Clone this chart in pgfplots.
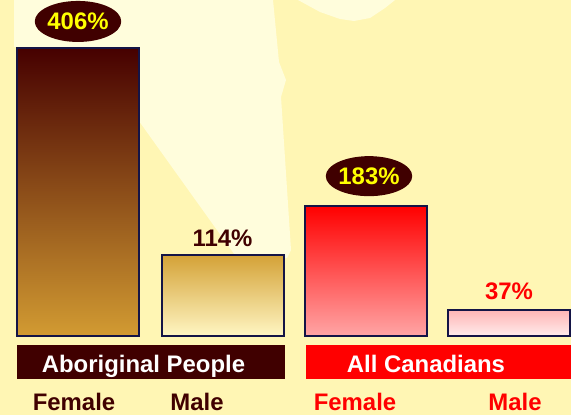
\documentclass[border=0pt]{standalone}
\usepackage{pgfplots}
\pgfplotsset{compat=1.18}
\usetikzlibrary{shapes.geometric}
\usepackage{fontspec}
\setmainfont{Liberation Sans}
\definecolor{bgdark}{RGB}{255,246,180}
\definecolor{bglight}{RGB}{255,253,220}
\definecolor{maroonx}{RGB}{64,0,0}
\definecolor{navyx}{RGB}{20,20,70}
\definecolor{redx}{RGB}{255,0,0}
\definecolor{yellowx}{RGB}{255,255,0}
\newcommand{\bigbf}{\fontsize{24}{26}\selectfont\bfseries}
\begin{document}
\begin{tikzpicture}
% background / decoration axis in pixel coordinates
\begin{axis}[at={(0,0)}, anchor=south west, scale only axis,
  width=571bp, height=415bp, xmin=0, xmax=571, ymin=0, ymax=415,
  y dir=reverse, hide axis, clip=false]
\fill[bgdark] (axis cs:0,0) rectangle (axis cs:571,415);
\fill[bglight] (axis cs:14,0) -- (axis cs:14,47) -- (axis cs:86,47) -- (axis cs:237,258)
  -- (axis cs:287,258) -- (axis cs:291,250) -- (axis cs:281,97) -- (axis cs:286,80)
  -- (axis cs:279,62) -- (axis cs:273,0) -- cycle;
\fill[bglight] (axis cs:298,0) -- (axis cs:320,12) -- (axis cs:340,19) -- (axis cs:354,21)
  -- (axis cs:370,18) -- (axis cs:385,8) -- (axis cs:395,0) -- cycle;
\fill[maroonx] (axis cs:17,345) rectangle (axis cs:285,379);
\fill[redx] (axis cs:306,345) rectangle (axis cs:571,379);
\node[anchor=base, text=white, font=\bigbf] at (axis cs:143.5,372.7) {Aboriginal People};
\node[anchor=base, text=white, font=\bigbf] at (axis cs:426,372.7) {All Canadians};
\node[anchor=base, text=maroonx, font=\bigbf] at (axis cs:74,410) {Female};
\node[anchor=base, text=maroonx, font=\bigbf] at (axis cs:197,410) {Male};
\node[anchor=base, text=redx, font=\bigbf] at (axis cs:355,410) {Female};
\node[anchor=base, text=redx, font=\bigbf] at (axis cs:515,410) {Male};
\end{axis}
% data axis
\begin{axis}[at={(0,0)}, anchor=south west, scale only axis,
  width=571bp, height=415bp, xmin=0, xmax=571, ymin=-111.4, ymax=473.6,
  hide axis, clip=false, bar width=122,
  /pgf/number format/assume math mode=true,
  nodes near coords={\pgfmathprintnumber{\pgfplotspointmeta}\%},
  every node near coord/.append style={font=\bigbf, inner sep=0pt}]
% Aboriginal People, Female
\addplot[ybar, bar shift=0pt, draw=navyx, line width=2bp,
  top color={rgb,255:red,70;green,0;blue,0},
  middle color={rgb,255:red,130;green,50;blue,15},
  bottom color={rgb,255:red,210;green,155;blue,50},
  every node near coord/.append style={ellipse, fill=maroonx, text=yellowx,
    minimum width=84bp, minimum height=41bp, anchor=south, yshift=5bp}]
  coordinates {(78,406)};
% Aboriginal People, Male
\addplot[ybar, bar shift=0pt, draw=navyx, line width=2bp,
  top color={rgb,255:red,212;green,162;blue,55},
  bottom color={rgb,255:red,255;green,246;blue,195},
  every node near coord/.append style={text=maroonx, anchor=base, yshift=8.4bp}]
  coordinates {(222.5,114)};
% All Canadians, Female
\addplot[ybar, bar shift=0pt, draw=navyx, line width=2bp,
  top color={rgb,255:red,255;green,0;blue,0},
  bottom color={rgb,255:red,255;green,165;blue,165},
  every node near coord/.append style={ellipse, fill=maroonx, text=yellowx,
    minimum width=84bp, minimum height=40bp, anchor=south, yshift=9bp, xshift=3bp}]
  coordinates {(366,183)};
% All Canadians, Male
\addplot[ybar, bar shift=0pt, draw=navyx, line width=2bp,
  top color={rgb,255:red,255;green,180;blue,180},
  bottom color={rgb,255:red,255;green,236;blue,236},
  every node near coord/.append style={text=redx, anchor=base, yshift=9.8bp}]
  coordinates {(509,37)};
\end{axis}
\end{tikzpicture}
\end{document}
